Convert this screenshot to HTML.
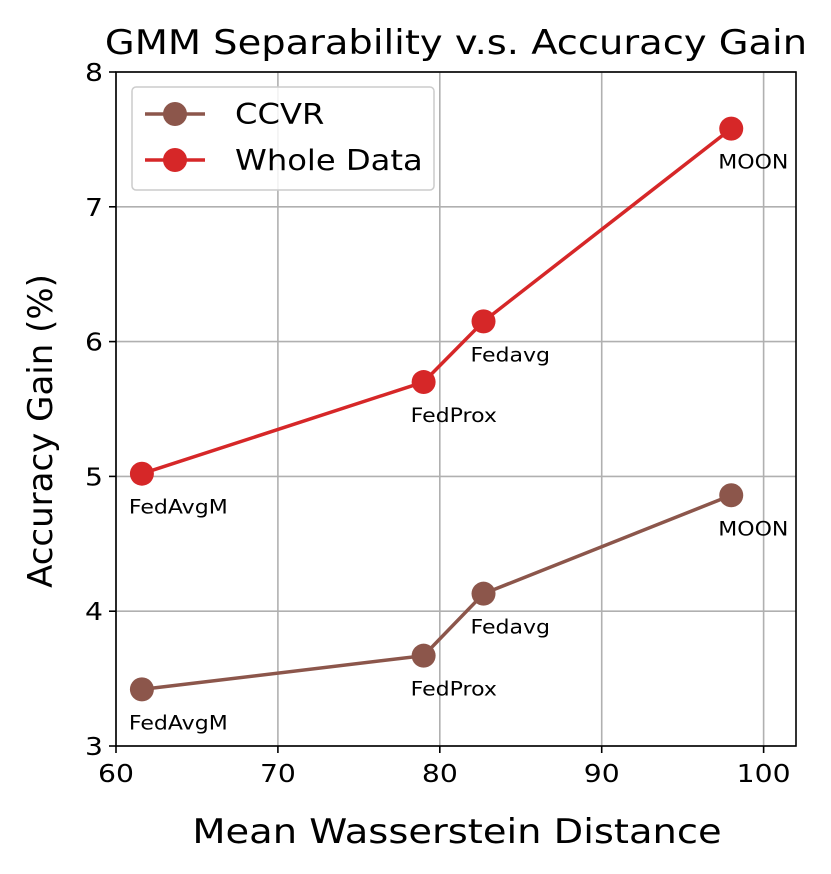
<!DOCTYPE html>
<html><head><meta charset="utf-8"><style>
body{margin:0;background:#fff;}
svg{display:block;font-family:"DejaVu Sans","Liberation Sans",sans-serif;}
</style></head><body>
<svg id="chart" width="831" height="874"></svg>
<script>
const xTicks=[60,70,80,90,100];
const yTicks=[3,4,5,6,7,8];
const methods=["FedAvgM","FedProx","Fedavg","MOON"];
const distances=[61.6,79.0,82.7,98.0];
const ccvrGain=[3.42,3.67,4.13,4.86];
const wholeGain=[5.02,5.70,6.15,7.58];

const L=116,R=796,T=72,B=746;
const xMin=60,xMax=102,yMin=3,yMax=8;
const sx=v=>L+(v-xMin)/(xMax-xMin)*(R-L);
const sy=v=>B-(v-yMin)/(yMax-yMin)*(B-T);
const svg=document.getElementById('chart');
const NS='http://www.w3.org/2000/svg';
const SX=1.13;
function mk(tag,attrs,parent){const e=document.createElementNS(NS,tag);for(const k in attrs)e.setAttribute(k,attrs[k]);(parent||svg).appendChild(e);return e;}
function txt(x,y,s,size,anchor,parent){
  return mk('text',{x:0,y:0,'font-size':size,'text-anchor':anchor,transform:`translate(${x},${y}) scale(${SX},1)`},parent);
}

const grid=mk('g',{});


xTicks.forEach(v=>{
  const l=mk('line',{x1:sx(v),x2:sx(v),y1:T,y2:B,stroke:'#b0b0b0','stroke-width':1.6},grid);
  
  
  const tk=mk('line',{x1:sx(v),x2:sx(v),y1:B,y2:B+7,stroke:'#000','stroke-width':1.6});
  
  
  const t=txt(sx(v),B+36,0,25,'middle');
  t.textContent=v;
  
  
});
yTicks.forEach(v=>{
  const l=mk('line',{x1:L,x2:R,y1:sy(v),y2:sy(v),stroke:'#b0b0b0','stroke-width':1.6},grid);
  
  
  const tk=mk('line',{x1:L-7,x2:L,y1:sy(v),y2:sy(v),stroke:'#000','stroke-width':1.6});
  
  
  const t=txt(L-13,sy(v)+9,0,25,'end');
  t.textContent=v;
  
  
});

function series(vals,color,name){
  const g=mk('g',{});
  
  
  const p=mk('polyline',{points:distances.map((d,i)=>sx(d)+','+sy(vals[i])).join(' '),fill:'none',stroke:color,'stroke-width':3.5},g);
  
  
  distances.forEach((d,i)=>{
    const c=mk('circle',{cx:sx(d),cy:sy(vals[i]),r:12,fill:color},g);
    
    
    const t=txt(sx(d)-13,sy(vals[i])+40,0,19.5,'start',g);
    t.textContent=methods[i];
    
    
  });
}
series(ccvrGain,'#8c564b','ccvr');
series(wholeGain,'#d62728','whole-data');

const frame=mk('rect',{x:L,y:T,width:R-L,height:B-T,fill:'none',stroke:'#000','stroke-width':1.6});



const lg=mk('g',{});


mk('rect',{x:132,y:87,width:302,height:103,rx:4,fill:'#fff','fill-opacity':0.85,stroke:'#ccc','stroke-width':1.5},lg);
[['CCVR','#8c564b',114],['Whole Data','#d62728',160]].forEach(([lab,col,y])=>{
  const e=mk('g',{},lg);
  
  
  mk('line',{x1:145,x2:205,y1:y,y2:y,stroke:col,'stroke-width':3.5},e);
  mk('circle',{cx:175,cy:y,r:12,fill:col},e);
  const t=txt(235,y+10,0,28.5,'start',e);
  t.textContent=lab;
});

const title=txt(456,54,0,34,'middle');
title.textContent='GMM Separability v.s. Accuracy Gain';


const xl=txt(457,843,0,34,'middle');
xl.textContent='Mean Wasserstein Distance';


const yl=mk('text',{x:52,y:431,'text-anchor':'middle','font-size':34,transform:'rotate(-90 52 431)'});
yl.textContent='Accuracy Gain (%)';


</script>
</body></html>
